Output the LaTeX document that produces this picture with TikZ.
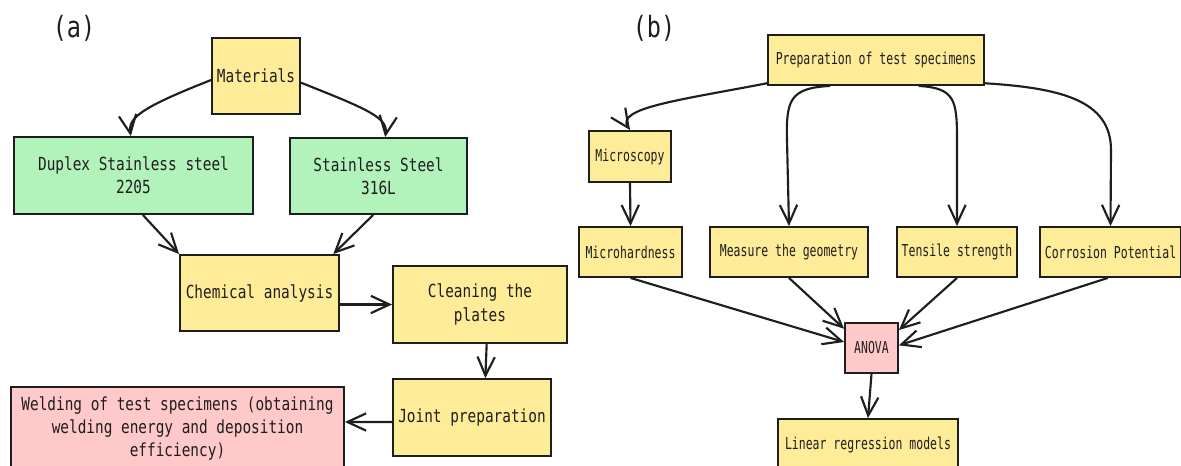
\documentclass[tikz,border=0pt]{standalone}
\usepackage{fontspec}
\newfontfamily\lfont[FakeStretch=0.8]{DejaVu Sans Mono}
\newfontfamily\rfont[FakeStretch=0.7]{DejaVu Sans Mono}
\usetikzlibrary{arrows.meta}
\definecolor{yel}{HTML}{FFEC99}
\definecolor{grn}{HTML}{B2F2BB}
\definecolor{pnk}{HTML}{FFC9C9}
\definecolor{ink}{HTML}{1E1E1E}
\begin{document}
\begin{tikzpicture}[x=0.75pt,y=-0.75pt,
 box/.style={draw=ink, line width=1.4pt, text=ink, inner sep=0pt, align=center},
 lbox/.style={box, font=\lfont\fontsize{13.5}{17.5}\selectfont},
 rbox/.style={box, font=\rfont\fontsize{12.3}{15}\selectfont},
 lbl/.style={text=ink, font=\lfont\fontsize{22}{24}\selectfont},
 arr/.style={draw=ink, line width=1.6pt, -{Straight Barb[length=14pt,width=13pt]}},
]
\clip (0,0) rectangle (1181,465);
\fill[white] (0,0) rectangle (1181,465);
% labels
\node[lbl] (la) at (74,28) {(a)};
\node[lbl] (lb) at (654,28) {(b)};
% (a)
\node[lbox, fill=yel, minimum width=66pt, minimum height=57pt] (mat) at (256,76) {Materials};
\node[lbox, fill=grn, minimum width=179.25pt, minimum height=57.75pt] (dup) at (133.5,175.5) {Duplex Stainless steel\\2205};
\node[lbox, fill=grn, minimum width=132.75pt, minimum height=57pt] (ss) at (378.5,176) {Stainless Steel\\316L};
\node[lbox, fill=yel, minimum width=119.25pt, minimum height=57pt] (chem) at (259.5,293) {Chemical analysis};
\node[lbox, fill=yel, minimum width=130.5pt, minimum height=57.75pt] (clean) at (480,304.5) {Cleaning the\\plates};
\node[lbox, fill=yel, minimum width=118.5pt, minimum height=57.75pt] (joint) at (472,417.5) {Joint preparation};
\node[lbox, fill=pnk, minimum width=249.75pt, minimum height=62.25pt] (weld) at (177.5,428.5) {Welding of test specimens (obtaining\\welding energy and deposition\\efficiency)};
\draw[arr] ([yshift=-3pt]mat.west) .. controls (140,108) and (128,118) .. ([xshift=-2pt]dup.north);
\draw[arr] ([yshift=-5pt]mat.east) .. controls (370,110) and (388,118) .. ([xshift=5pt]ss.north);
\draw[arr] ([xshift=7pt]dup.south) -- (chem.north west);
\draw[arr] ([xshift=-4pt]ss.south) -- ([xshift=-5pt]chem.north east);
\draw[arr] (clean.west -| chem.east) -- (clean.west);
\draw[arr] ([xshift=5pt]clean.south) -- ([xshift=10pt]joint.north);
\draw[arr] ([yshift=-3.4pt]joint.west) -- ([yshift=4.9pt]weld.east);
% (b)
\node[rbox, fill=yel, minimum width=162pt, minimum height=37.5pt] (prep) at (876,60) {Preparation of test specimens};
\node[rbox, fill=yel, minimum width=61.5pt, minimum height=38.25pt] (mic) at (630,156.5) {Microscopy};
\node[rbox, fill=yel, minimum width=77.25pt, minimum height=37.5pt] (mh) at (630.5,252) {Microhardness};
\node[rbox, fill=yel, minimum width=118.5pt, minimum height=37.5pt] (meas) at (789,252) {Measure the geometry};
\node[rbox, fill=yel, minimum width=90pt, minimum height=37.5pt] (ten) at (957,252) {Tensile strength};
\node[rbox, fill=yel, minimum width=105.75pt, minimum height=37.5pt] (cor) at (1110.5,252) {Corrosion Potential};
\node[rbox, fill=pnk, minimum width=39.75pt, minimum height=37.5pt] (anova) at (871.5,348) {ANOVA};
\node[rbox, fill=yel, minimum width=135pt, minimum height=39pt] (lin) at (868,445) {Linear regression models};
\draw[arr] ([yshift=2pt]prep.south west) .. controls (680,100) and (615,108) .. (mic.north);
\draw[arr] ([xshift=-34.5pt]prep.south) .. controls (790,88) and (786,100) .. (787,140) -- (meas.north);
\draw[arr] ([xshift=32pt]prep.south) .. controls (955,88) and (957,100) .. (957,140) -- (ten.north);
\draw[arr] ([yshift=2pt]prep.south east) .. controls (1060,88) and (1111,100) .. (1111,150) -- (cor.north);
\draw[arr] (mic.south) -- (mh.north);
\draw[arr] (mh.south) -- ([yshift=4.5pt]anova.west);
\draw[arr] (meas.south) -- ([yshift=-5pt]anova.north west);
\draw[arr] (ten.south) -- ([yshift=-6pt]anova.north east);
\draw[arr] ([xshift=-2pt]cor.south) -- ([yshift=2pt]anova.east);
\draw[arr] (anova.south) -- (lin.north);
\end{tikzpicture}
\end{document}
